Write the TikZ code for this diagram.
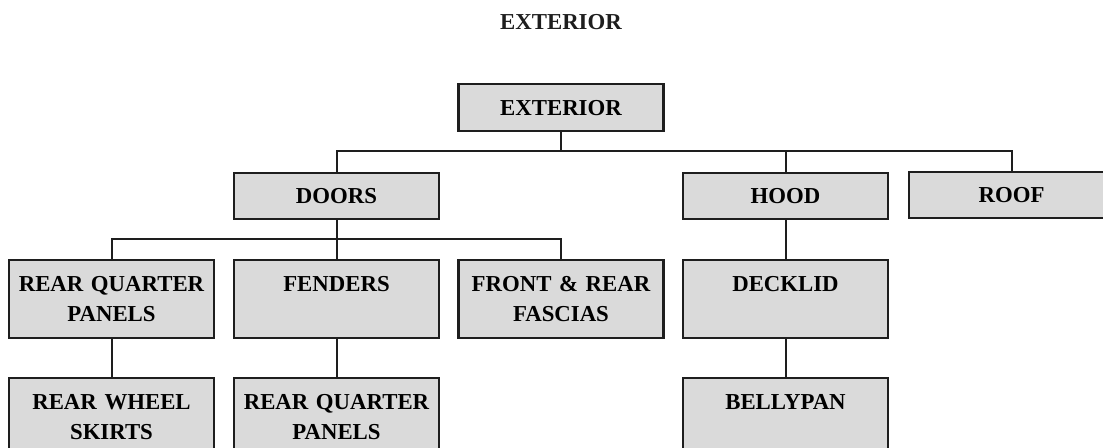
\documentclass[tikz,border=0pt]{standalone}
\usepackage{fontspec}
\setmainfont{Liberation Serif}
\definecolor{ink}{RGB}{30,30,30}
\definecolor{boxgray}{RGB}{218,218,218}

\begin{document}
\begin{tikzpicture}[x=0.5pt, y=-0.5pt, line width=1pt, draw=ink,
    font=\fontsize{11.4}{15}\selectfont\bfseries,
    part/.style={draw=ink, line width=1.2pt, fill=boxgray, anchor=north,
      minimum width=102.5pt, text width=96pt, inner sep=0pt, align=center},
    flat/.style={part, minimum height=23pt},
    tall/.style={part, minimum height=39pt}]
  \useasboundingbox (0,0) rectangle (1103,448);
  % heading
  \node[text=ink] (title) at (561,22) {EXTERIOR};
  % level 0 + 1
  \node[part, minimum height=23.5pt] (ext) at (561,83) {EXTERIOR};
  \node[flat] (doors) at (336.5,172) {DOORS};
  \node[flat] (hood) at (785.5,172) {HOOD};
  \node[flat] (roof) at (1011.5,171) {ROOF};
  % level 2
  \node[tall] (rqp) at (111.5,259) {REAR QUARTER\\PANELS};
  \node[tall] (fenders) at (336.5,259) {FENDERS\\\phantom{X}};
  \node[tall] (fascias) at (561,259) {FRONT \& REAR\\FASCIAS};
  \node[tall] (decklid) at (785.5,259) {DECKLID\\\phantom{X}};
  % level 3
  \node[tall] (skirts) at (111.5,377) {REAR WHEEL\\SKIRTS};
  \node[tall] (rqp2) at (336.5,377) {REAR QUARTER\\PANELS};
  \node[tall] (bellypan) at (785.5,377) {BELLYPAN\\\phantom{X}};
  % buses
  \coordinate (bus1) at (561,151);
  \coordinate (bus2) at (336.5,239);
  \draw (ext.south) -- (bus1);
  \draw (doors.north) |- (bus1) -| (roof.north);
  \draw (hood.north) -- (hood.north |- bus1);
  \draw (doors.south) -- (fenders.north);
  \draw (rqp.north) |- (bus2) -| (fascias.north);
  % stems down
  \draw (rqp.south) -- (skirts.north);
  \draw (fenders.south) -- (rqp2.north);
  \draw (hood.south) -- (decklid.north);
  \draw (decklid.south) -- (bellypan.north);
\end{tikzpicture}
\end{document}
